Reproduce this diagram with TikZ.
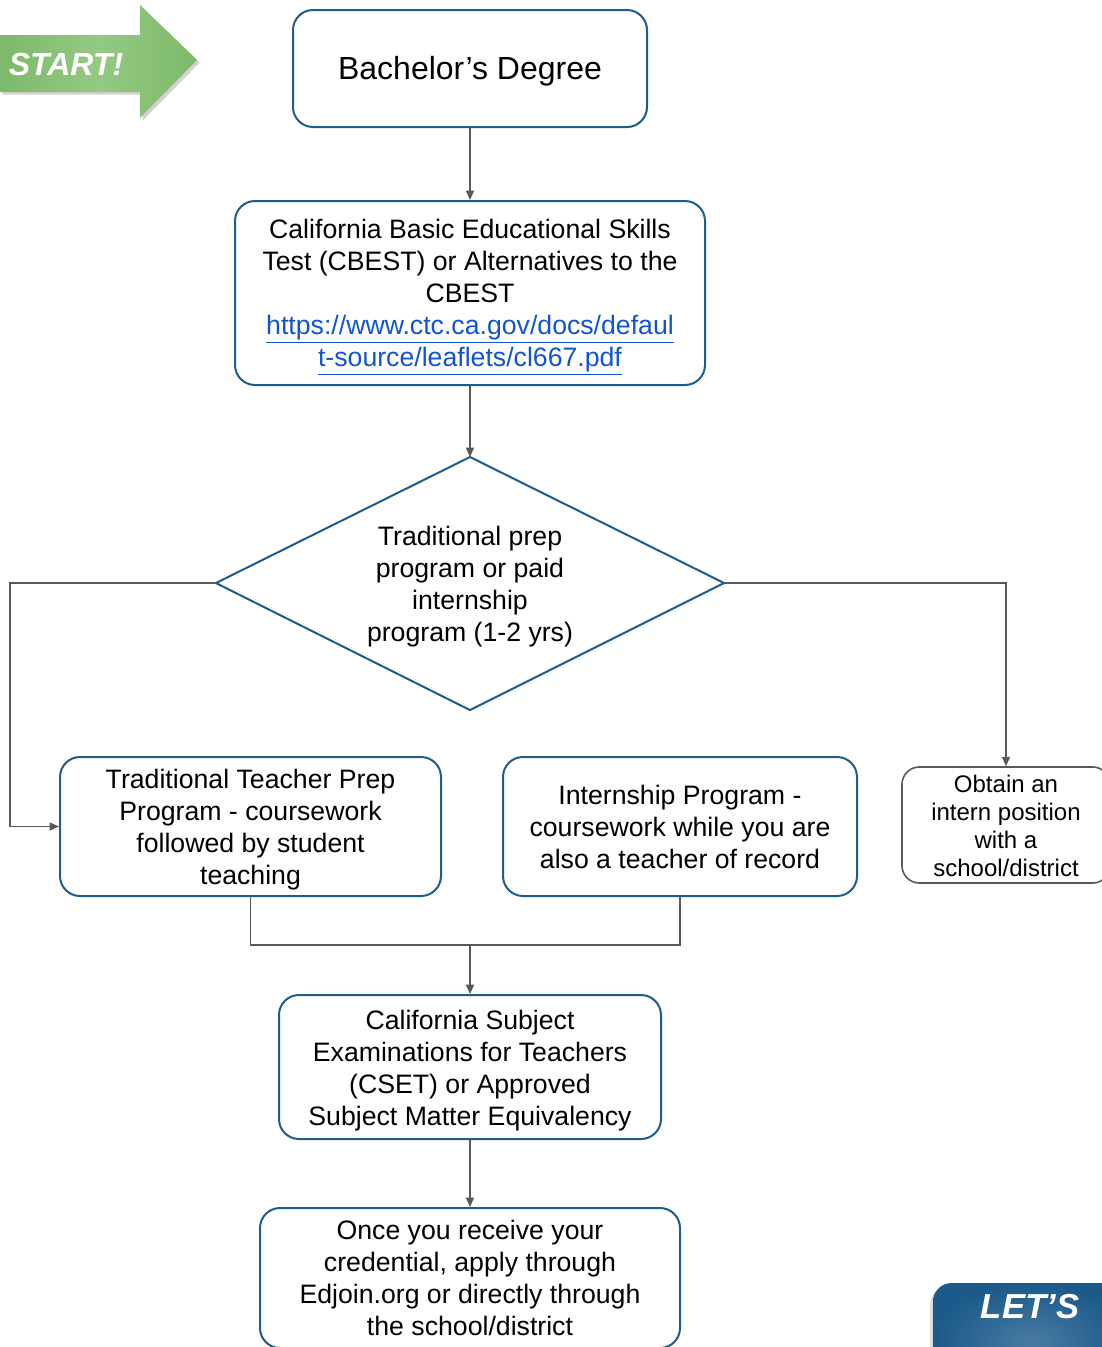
\documentclass[tikz,border=0pt]{standalone}
\usepackage{fontspec}
\setmainfont{Liberation Sans}
\usetikzlibrary{arrows.meta,shadows}
\definecolor{boxblue}{HTML}{1C5D8C}
\definecolor{linkblue}{HTML}{1155CC}
\definecolor{conn}{HTML}{595959}
\definecolor{startgreen}{HTML}{7DB96A}
\definecolor{startlight}{HTML}{94C983}
\definecolor{letsblue}{HTML}{1B5A8A}
\begin{document}
\begin{tikzpicture}[x=0.75pt,y=-0.75pt,
  flowbox/.style={draw=boxblue,line width=1.5pt,rounded corners=15pt,inner sep=0pt},
  greybox/.style={draw=conn,line width=1.2pt,rounded corners=13pt,inner sep=0pt},
  txt/.style={align=center,inner sep=0pt,font=\fontsize{20}{24}\selectfont},
  smalltxt/.style={align=center,inner sep=0pt,font=\fontsize{18}{21}\selectfont},
  conn/.style={draw=conn,line width=1.1pt,-{Triangle[length=7pt,width=6pt]}},
  plain/.style={draw=conn,line width=1.1pt}]
\useasboundingbox (0,0) rectangle (1102,1347);
\begin{scope}
\clip (0,0) rectangle (1102,1347);

% START arrow
\path[drop shadow={shadow xshift=2pt,shadow yshift=-2pt,opacity=0.35},
  left color=startgreen,right color=startgreen,middle color=startlight]
  (0,35) -- (140,35) -- (140,5) -- (197,60) -- (140,118) -- (140,92) -- (0,92) -- cycle;
\node[text=white,font=\fontsize{24}{26}\selectfont\bfseries\itshape] (start) at (66,64) {START!};

% LET'S box
\path[drop shadow={shadow xshift=-2pt,shadow yshift=-2pt,opacity=0.3},
  inner color=letsblue!80!white,outer color=letsblue,rounded corners=14pt]
  (933,1400) -- (933,1283) -- (1130,1283) -- (1130,1400) -- cycle;
\node[text=white,font=\fontsize{26}{28}\selectfont\bfseries\itshape] (lets) at (1030,1307) {LET'S};

% boxes
\node[flowbox,minimum width=265.5pt,minimum height=87.75pt] (bach) at (470,68.5) {};
\node[txt,font=\fontsize{24}{28}\selectfont] (bachtext) at (470,71) {Bachelor’s Degree};

\node[flowbox,minimum width=352.5pt,minimum height=138pt] (cbest) at (470,293) {};
\node[txt] (cbesttext) at (470,297)
  {California Basic Educational Skills\\Test (CBEST) or Alternatives to the\\CBEST\\
   \textcolor{linkblue}{\underline{https://www.ctc.ca.gov/docs/defaul}}\\
   \textcolor{linkblue}{\underline{t-source/leaflets/cl667.pdf}}};

\coordinate (dtop) at (470,457);
\coordinate (dleft) at (216,583);
\coordinate (dright) at (724,583);
\coordinate (dbot) at (470,710);
\draw[draw=boxblue,line width=1.5pt] (dtop) -- (dright) -- (dbot) -- (dleft) -- cycle;
\node[txt] (dtext) at (470,587)
  {Traditional prep\\program or paid\\internship\\program (1-2 yrs)};

\node[flowbox,minimum width=285.75pt,minimum height=104.25pt] (trad) at (250.5,826.5) {};
\node[txt] (tradtext) at (250.5,830)
  {Traditional Teacher Prep\\Program - coursework\\followed by student\\teaching};

\node[flowbox,minimum width=265.5pt,minimum height=104.25pt] (intern) at (680,826.5) {};
\node[txt] (interntext) at (680,827)
  {Internship Program -\\coursework while you are\\also a teacher of record};

\node[greybox,minimum width=156pt,minimum height=87pt] (obtain) at (1006,825) {};
\node[smalltxt] (obtaintext) at (1006,825.5)
  {Obtain an\\intern position\\with a\\school/district};

\node[flowbox,minimum width=286.5pt,minimum height=108pt] (cset) at (470,1067) {};
\node[txt] (csettext) at (470,1071)
  {California Subject\\Examinations for Teachers\\(CSET) or Approved\\Subject Matter Equivalency};

\node[flowbox,minimum width=315pt,minimum height=105pt] (once) at (470,1278) {};
\node[txt] (oncetext) at (470,1278)
  {Once you receive your\\credential, apply through\\Edjoin.org or directly through\\the school/district};

% connectors
\coordinate (lc1) at (10,583);
\coordinate (lc2) at (10,826.5);
\coordinate (rc1) at (1006,583);
\coordinate (jl) at (250.5,945);
\coordinate (jr) at (680,945);
\coordinate (jm) at (470,945);

\draw[conn] (bach.south) -- (cbest.north);
\draw[conn] (cbest.south) -- (dtop);
\draw[conn] (dleft) -- (lc1) -- (lc2) -- (trad.west);
\draw[conn] (dright) -- (rc1) -- (obtain.north);
\draw[plain] (trad.south) -- (jl) -- (jr) -- (intern.south);
\draw[conn] (jm) -- (cset.north);
\draw[conn] (cset.south) -- (once.north);
\end{scope}
\end{tikzpicture}
\end{document}
